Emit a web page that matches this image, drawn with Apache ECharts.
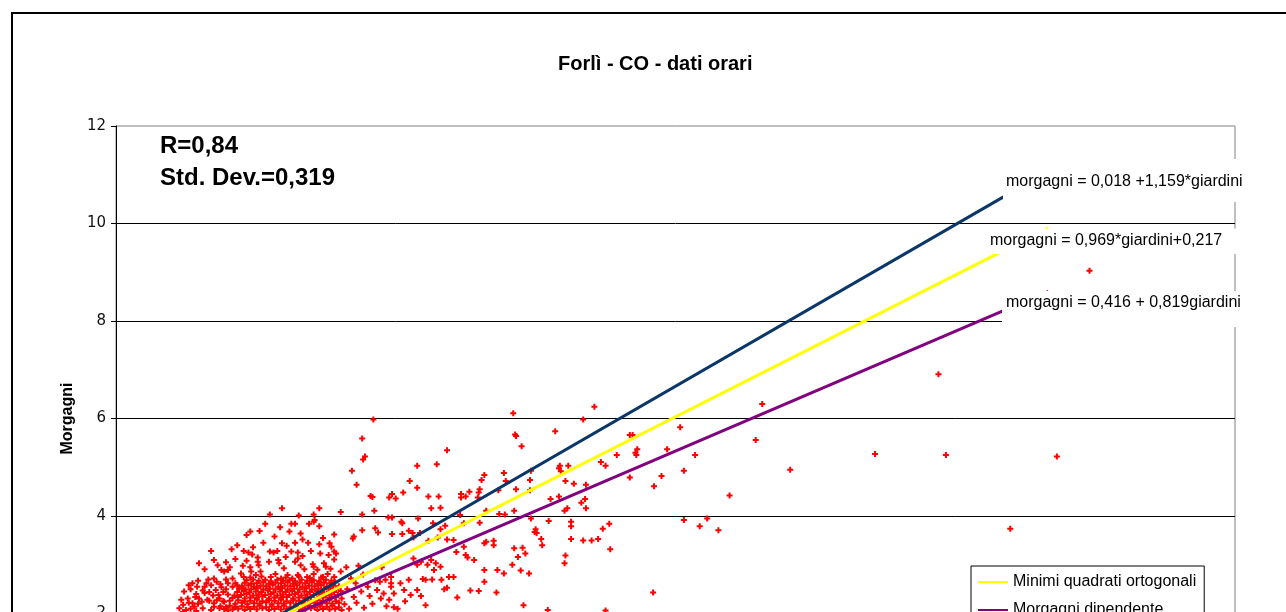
<!DOCTYPE html>
<html><head><meta charset="utf-8">
<script src="https://cdn.jsdelivr.net/npm/echarts@6/dist/echarts.min.js"></script>
<style>html,body{margin:0;padding:0;background:#fff;overflow:hidden}#wrap{width:1286px;height:612px;overflow:hidden;position:relative}#chart{width:1286px;height:780px}</style>
</head><body><div id="wrap"><div id="chart"></div></div>
<script>
// ---- testi ----
const titolo = 'Forlì - CO - dati orari';
const nomeAsseY = 'Morgagni';
const testoR = 'R=0,84';
const testoStd = 'Std. Dev.=0,319';
const equazioni = ['morgagni = 0,018 +1,159*giardini', 'morgagni = 0,969*giardini+0,217', 'morgagni = 0,416 + 0,819giardini'];
const nomiSerie = ['Minimi quadrati ortogonali', 'Morgagni dipendente', 'Giardini dipendente'];
// ---- assi ----
const yMin = 0, yMax = 12, yPasso = 2;
const xMin = 0, xMax = 12, xPasso = 2;
// ---- rette [giardini, morgagni] ----
const rettaOrtogonale = [[1.0, 1.19], [10.0, 9.91]];
const rettaMorgagniDip = [[1.0, 1.24], [10.0, 8.61]];
const rettaGiardiniDip = [[1.0, 1.14], [10.0, 11.08]];
// ---- punti orari [giardini, morgagni] ----
const puntiSparsi = [
[5.13,6.24],[5.01,5.98],[6.93,6.30],[4.71,5.74],[5.51,5.66],[5.54,5.66],[6.05,5.82],[6.86,5.56],[5.37,5.25],[5.57,5.30],[5.58,5.25],[5.59,5.37],[5.91,5.37],[6.21,5.25],[8.14,5.27],[8.90,5.25],[10.09,5.22],[5.20,5.11],[5.25,5.03],[4.75,4.98],[4.76,5.03],[4.77,4.92],[4.85,5.03],[7.23,4.95],[6.09,4.93],[5.51,4.79],[5.85,4.82],[4.82,4.72],[4.91,4.66],[5.04,4.64],[5.77,4.61],[6.58,4.42],[4.66,4.35],[4.75,4.40],[4.99,4.27],[5.03,4.35],[5.04,4.16],[4.81,4.11],[4.84,4.16],[4.64,3.90],[4.88,3.88],[4.88,3.79],[5.22,3.74],[5.29,3.84],[6.09,3.92],[6.34,3.95],[6.26,3.79],[6.46,3.71],[9.59,3.74],[4.56,3.53],[4.57,3.40],[4.88,3.53],[5.01,3.50],[5.10,3.50],[5.17,3.53],[5.30,3.32],[4.82,3.19],[4.81,3.03],[5.76,2.43],[4.63,2.07],[5.25,2.06],[10.44,9.03],[8.82,6.91],
[2.76,5.98],[4.26,6.11],[2.64,5.59],[4.28,5.67],[4.29,5.64],[4.35,5.43],[3.55,5.35],[2.67,5.22],[2.65,5.16],[2.53,4.93],[3.23,5.03],[3.44,5.06],[2.58,4.64],[3.15,4.72],[3.23,4.58],[2.73,4.41],[2.75,4.39],[2.96,4.45],[2.93,4.38],[3.00,4.36],[3.08,4.48],[3.35,4.40],[3.46,4.40],[3.70,4.45],[3.70,4.38],[3.75,4.40],[3.79,4.50],[3.89,4.48],[3.90,4.55],[3.92,4.74],[3.95,4.84],[4.16,4.88],[4.18,4.72],[4.29,4.55],[4.44,4.74],[4.45,4.93],[4.10,4.53],[3.88,4.38],[4.44,4.53]
];
const puntiNube = [
[2.64,4.03],[2.77,4.11],[2.41,4.08],[2.92,3.97],[2.96,3.97],[3.06,3.88],[3.07,3.85],[3.24,3.95],[3.38,4.16],[3.40,3.85],[3.48,4.17],[3.53,3.80],[3.69,4.02],[3.73,3.85],[3.90,3.86],[3.97,4.11],[4.11,4.04],[4.17,4.03],[4.27,4.11],[4.45,3.95],[4.50,3.73],[4.49,3.67],[4.51,3.65],[2.64,3.71],[2.78,3.75],[2.81,3.66],[2.55,3.58],[2.54,3.54],[2.96,3.63],[3.07,3.63],[3.14,3.70],[3.18,3.65],[3.19,3.56],[3.26,3.65],[3.35,3.49],[3.45,3.56],[3.48,3.73],[3.55,3.52],[3.62,3.51],[3.65,3.26],[3.75,3.20],[3.77,3.15],[3.73,3.37],[3.84,3.10],[3.95,3.44],[3.97,3.47],[4.05,3.49],[4.05,3.40],[4.27,3.34],[4.36,3.35],[4.39,3.23],[4.31,3.16],[3.95,2.89],[4.09,2.89],[4.16,2.82],[4.25,3.00],[4.34,2.88],[4.43,2.82],[3.95,2.65],[4.08,2.43],[3.80,2.47],[3.89,2.46],[3.66,2.33],[3.57,2.75],[3.62,2.75],[3.49,2.69],[3.55,2.53],[3.52,2.50],[4.37,2.17],[3.32,2.69],[3.39,2.70],[3.29,2.71],[3.41,2.89],[3.48,2.96],[3.43,3.03],[3.34,3.00],[3.38,3.10],[3.23,3.00],[3.27,3.06],[3.19,3.13],[3.14,2.69],[3.05,2.62],[3.09,2.48],[3.23,2.48],[3.16,2.38],[3.27,2.36],[3.32,2.17],[2.98,2.13],[2.83,2.65],[2.89,2.69],[2.95,2.75],[2.95,2.55],[2.87,2.41],[2.84,2.31],[2.93,2.28],[2.98,2.41],
[1.78,4.16],[2.18,4.16],[1.65,4.03],[1.96,4.01],[2.12,4.03],[2.13,3.92],[2.12,3.88],[1.60,3.84],[1.88,3.84],[1.92,3.84],[2.07,3.84],[2.18,3.79],[1.76,3.77],[1.54,3.69],[1.44,3.68],[1.86,3.68],[1.40,3.61],[1.98,3.64],[2.34,3.62],[1.78,3.44],[1.83,3.39],[1.92,3.45],[2.06,3.45],[2.18,3.42],[2.29,3.44],[2.31,3.37],[2.34,3.27],[2.36,3.23],[1.47,3.36],[1.02,3.28],[1.24,3.32],[1.37,3.28],[1.42,3.25],[1.46,3.21],[1.65,3.27],[1.69,3.25],[1.73,3.28],[1.88,3.27],[1.95,3.25],[2.09,3.28],[2.19,3.23],[0.89,3.03],[0.95,2.91],[1.09,2.99],[1.36,2.98],[1.52,3.15],[1.52,3.06],[1.53,2.99],[1.64,3.06],[1.74,3.10],[1.75,3.03],[1.92,3.06],[1.95,3.13],[2.02,2.91],[2.11,3.01],[2.12,2.96],[2.23,3.03],[2.25,2.96],[2.34,3.11],[1.13,2.89],[1.16,2.86],[1.20,2.89],[1.25,2.72],[1.34,2.82],[1.37,2.75],[1.45,2.86],[1.50,2.79],[1.55,2.86],[1.66,2.75],[1.71,2.81],[1.77,2.72],[1.84,2.79],[1.89,2.72],[1.95,2.79],[2.05,2.75],[2.12,2.81],[2.20,2.74],[2.27,2.81],[2.34,2.75],[2.41,2.86],[0.82,2.62],[0.88,2.67],[0.73,2.45],[0.80,2.50],[0.95,2.55],[1.02,2.58],[1.07,2.48],[1.13,2.54],[1.20,2.62],[1.25,2.55],[1.30,2.58],[1.36,2.52],[0.70,2.28],[0.77,2.31],[0.82,2.21],[0.89,2.31],[0.68,2.11],[0.75,2.07],[0.84,2.14],[0.93,2.11],[0.98,2.28],[1.05,2.21],[1.11,2.31],[1.16,2.24],[1.02,2.07],[1.11,2.11],[1.20,2.06],[1.27,2.13],
[1.05,3.10],[1.18,3.05],[1.28,3.12],[1.40,3.08],[1.82,3.16],[2.00,3.18],[2.28,3.20],[1.22,2.95],[1.44,2.95],[1.80,2.93],[1.98,2.99],[2.16,2.90],[2.30,2.92],[1.30,3.40],[1.58,3.45],[2.00,3.52],[2.22,3.55],[1.70,3.58]
];
const puntiDensi = [
[1.25,2.08],[1.31,2.10],[1.38,2.07],[1.44,2.09],[1.51,2.08],[1.57,2.11],[1.64,2.07],[1.70,2.09],[1.77,2.08],[1.83,2.10],[1.90,2.07],[1.96,2.09],[2.03,2.08],[2.09,2.11],[2.16,2.07],[2.22,2.09],[2.29,2.08],[2.35,2.10],[2.42,2.07],
[1.28,2.20],[1.35,2.22],[1.41,2.19],[1.48,2.21],[1.54,2.20],[1.61,2.23],[1.67,2.19],[1.74,2.21],[1.80,2.20],[1.87,2.22],[1.93,2.19],[2.00,2.21],[2.06,2.20],[2.13,2.22],[2.19,2.19],[2.26,2.21],[2.32,2.20],[2.39,2.22],[2.45,2.19],
[1.25,2.32],[1.31,2.34],[1.38,2.31],[1.44,2.33],[1.51,2.32],[1.57,2.35],[1.64,2.31],[1.70,2.33],[1.77,2.32],[1.83,2.34],[1.90,2.31],[1.96,2.33],[2.03,2.32],[2.09,2.34],[2.16,2.31],[2.22,2.33],[2.29,2.32],[2.35,2.34],[2.42,2.31],
[1.30,2.44],[1.37,2.46],[1.43,2.43],[1.50,2.45],[1.56,2.44],[1.63,2.47],[1.69,2.43],[1.76,2.45],[1.82,2.44],[1.89,2.46],[1.95,2.43],[2.02,2.45],[2.08,2.44],[2.15,2.46],[2.21,2.43],[2.28,2.45],[2.34,2.44],[2.41,2.46],
[1.35,2.56],[1.42,2.58],[1.48,2.55],[1.55,2.57],[1.61,2.56],[1.68,2.59],[1.74,2.55],[1.81,2.57],[1.87,2.56],[1.94,2.58],[2.00,2.55],[2.07,2.57],[2.13,2.56],[2.20,2.58],[2.26,2.55],[2.33,2.57],[2.39,2.56],
[1.40,2.68],[1.47,2.70],[1.53,2.67],[1.60,2.69],[1.66,2.66],[1.73,2.69],[1.79,2.67],[1.86,2.68],[1.92,2.66],[1.99,2.69],[2.05,2.67],[2.12,2.68],[2.18,2.66],[2.25,2.69],[2.31,2.67],
[0.72,2.18],[0.86,2.40],[0.95,2.42],[1.04,2.37],[1.15,2.44],[0.78,2.58],[1.08,2.65],[1.18,2.70],[0.99,2.70],[1.22,2.16],[1.16,2.09],[0.88,2.20],
[2.50,2.10],[2.58,2.22],[2.66,2.12],[2.75,2.20],[2.55,2.34],[2.63,2.45],[2.72,2.36],[2.48,2.50],[2.57,2.62],[2.70,2.55],[2.80,2.48],[2.90,2.15],[3.02,2.10],[2.95,2.62],[2.52,2.72],[2.65,2.80],[2.47,2.95],[2.60,2.98],[3.10,2.25],[2.85,2.95],[2.78,2.68],
[1.05,2.14],[1.12,2.15],[1.18,2.13],[1.28,2.14],[1.35,2.15],[1.41,2.13],[1.48,2.14],[1.54,2.16],[1.61,2.13],[1.67,2.15],[1.74,2.14],[1.80,2.16],[1.87,2.13],[1.93,2.15],[2.00,2.14],[2.06,2.16],[2.13,2.13],[2.19,2.15],[2.26,2.14],[2.32,2.16],[2.39,2.13],
[1.00,2.26],[1.08,2.27],[1.15,2.25],[1.22,2.26],[1.31,2.27],[1.38,2.25],[1.44,2.26],[1.51,2.28],[1.57,2.25],[1.64,2.27],[1.70,2.26],[1.77,2.28],[1.83,2.25],[1.90,2.27],[1.96,2.26],[2.03,2.28],[2.09,2.25],[2.16,2.27],[2.22,2.26],[2.29,2.28],[2.36,2.25],
[1.10,2.38],[1.20,2.39],[1.27,2.37],[1.34,2.38],[1.40,2.40],[1.47,2.37],[1.53,2.39],[1.60,2.38],[1.66,2.40],[1.73,2.37],[1.79,2.39],[1.86,2.38],[1.92,2.40],[1.99,2.37],[2.05,2.39],[2.12,2.38],[2.18,2.40],[2.25,2.37],[2.31,2.39],[2.38,2.38],
[1.18,2.50],[1.32,2.51],[1.39,2.49],[1.45,2.50],[1.52,2.52],[1.58,2.49],[1.65,2.51],[1.71,2.50],[1.78,2.52],[1.84,2.49],[1.91,2.51],[1.97,2.50],[2.04,2.52],[2.10,2.49],[2.17,2.51],[2.23,2.50],[2.30,2.52],[2.36,2.49],
[1.28,2.62],[1.38,2.63],[1.45,2.61],[1.51,2.62],[1.58,2.64],[1.64,2.61],[1.71,2.63],[1.77,2.62],[1.84,2.64],[1.90,2.61],[1.97,2.63],[2.03,2.62],[2.10,2.64],[2.16,2.61],[2.23,2.63],[2.29,2.62],[2.35,2.64],
[1.44,2.74],[1.56,2.76],[1.82,2.74],[1.96,2.76],[2.08,2.73],[2.22,2.75],
[0.72,2.03],[0.80,2.10],[0.86,2.05],[0.78,2.22],[0.92,2.24],[0.85,2.34],[0.93,2.47],[1.00,2.44],[0.87,2.55],[1.12,2.60],[0.97,2.62],[1.05,2.72]
];

const puntiOrari = puntiSparsi.concat(puntiNube, puntiDensi);
const FONT = '"Liberation Sans", Arial, sans-serif';
const ICONA_LINEA = 'path://M0 0h30v2h-30z';

const chart = echarts.init(document.getElementById('chart'), null, {renderer: 'canvas'});
const rettaSerie = (nome, dati, colore) => ({
  name: nome, type: 'line', data: dati, symbol: 'none', showSymbol: false, z: 3, silent: true,
  lineStyle: {color: colore, width: 3}, itemStyle: {color: colore}
});
chart.setOption({
  animation: false,
  backgroundColor: '#fff',
  title: {text: titolo, left: 558, top: 54, padding: 0,
    textStyle: {fontSize: 20, fontWeight: 'bold', fontFamily: FONT, color: '#000'}},
  grid: {left: 116, top: 126, width: 1119, height: 585, show: true, outerBoundsMode: 'none', containLabel: false,
    borderColor: '#808080', borderWidth: 1, backgroundColor: '#fff'},
  xAxis: {type: 'value', min: xMin, max: xMax, interval: xPasso,
    splitLine: {show: false}, axisLine: {lineStyle: {color: '#000'}},
    axisTick: {lineStyle: {color: '#000'}}, axisLabel: {color: '#000'}},
  yAxis: {type: 'value', min: yMin, max: yMax, interval: yPasso,
    name: nomeAsseY, nameLocation: 'middle', nameGap: 38, nameRotate: 90,
    nameTextStyle: {fontSize: 16, fontWeight: 'bold', fontFamily: FONT, color: '#000'},
    axisLine: {show: true, lineStyle: {color: '#000', width: 1}},
    axisTick: {show: true, inside: false, length: 5, lineStyle: {color: '#000'}},
    axisLabel: {margin: 10, fontSize: 15, fontFamily: '"DejaVu Sans", sans-serif', color: '#111'},
    splitLine: {show: true, showMaxLine: false, lineStyle: {color: '#000', width: 1}}},
  legend: {orient: 'vertical', left: 971, top: 566, data: nomiSerie, icon: ICONA_LINEA,
    padding: [8, 8, 8, 7], itemWidth: 30, itemHeight: 14, itemGap: 12,
    backgroundColor: '#fff', borderColor: '#000', borderWidth: 1, z: 20,
    textStyle: {fontSize: 16, fontFamily: FONT, color: '#000'}},
  series: [
    {name: 'punti', type: 'scatter', data: puntiOrari, z: 2, silent: true,
      symbol: 'path://M2 0h2v6h-2zM0 2h6v2h-6z', symbolSize: 6,
      itemStyle: {color: '#ff0000', opacity: 1}},
    rettaSerie(nomiSerie[2], rettaGiardiniDip, '#0a3768'),
    rettaSerie(nomiSerie[0], rettaOrtogonale, '#ffff00'),
    rettaSerie(nomiSerie[1], rettaMorgagniDip, '#800080')
  ],
  graphic: [
    {type: 'rect', shape: {x: 12, y: 13, width: 1400, height: 900}, style: {fill: 'none', stroke: '#000', lineWidth: 2}, z: 200, silent: true},
    {type: 'text', x: 160, y: 146, z: 100, style: {text: testoR, font: 'bold 24px ' + FONT, fill: '#000', align: 'left', verticalAlign: 'middle'}},
    {type: 'text', x: 160, y: 178, z: 100, style: {text: testoStd, font: 'bold 24px ' + FONT, fill: '#000', align: 'left', verticalAlign: 'middle'}},
    {type: 'rect', shape: {x: 1003, y: 159, width: 252, height: 43}, style: {fill: '#fff'}, z: 100, silent: true},
    {type: 'text', x: 1006, y: 182, z: 101, style: {text: equazioni[0], font: '16px ' + FONT, fill: '#000', align: 'left', verticalAlign: 'middle'}},
    {type: 'rect', shape: {x: 987, y: 228.5, width: 250, height: 25.5}, style: {fill: '#fff'}, z: 100, silent: true},
    {type: 'text', x: 990, y: 241, z: 101, style: {text: equazioni[1], font: '16px ' + FONT, fill: '#000', align: 'left', verticalAlign: 'middle'}},
    {type: 'rect', shape: {x: 1002, y: 291, width: 253, height: 36}, style: {fill: '#fff'}, z: 100, silent: true},
    {type: 'text', x: 1006, y: 303, z: 101, style: {text: equazioni[2], font: '16px ' + FONT, fill: '#000', align: 'left', verticalAlign: 'middle'}}
  ]
});
</script></body></html>
